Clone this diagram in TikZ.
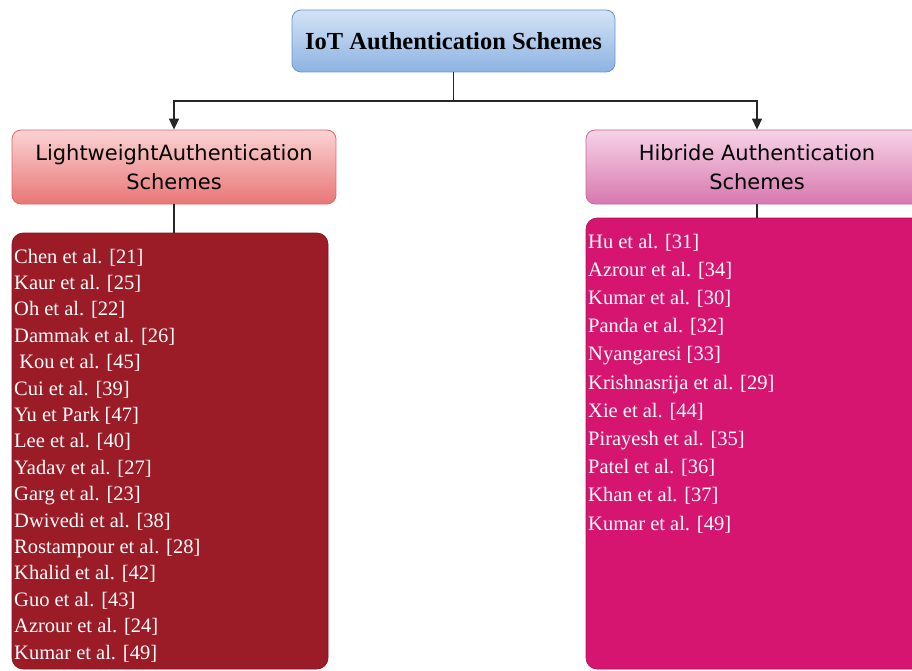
\documentclass[tikz,border=0pt]{standalone}
\usepackage{fontspec}
\setmainfont{Liberation Serif}
\newfontfamily\hdfont{DejaVu Sans}
\usetikzlibrary{arrows.meta}
\definecolor{topA}{HTML}{D3E3F6}
\definecolor{topB}{HTML}{8DB3E2}
\definecolor{topD}{HTML}{6F94C6}
\definecolor{lhA}{HTML}{FBD3D3}
\definecolor{lhB}{HTML}{E97676}
\definecolor{lhD}{HTML}{DB6A6A}
\definecolor{rhA}{HTML}{F6D3E7}
\definecolor{rhB}{HTML}{D878AE}
\definecolor{rhD}{HTML}{C46A9E}
\definecolor{lfill}{HTML}{9B1B27}
\definecolor{rfill}{HTML}{D61570}
\tikzset{
  box/.style={rounded corners=9pt, line width=0.8pt, inner sep=0pt, align=center},
  listbox/.style={rounded corners=11pt, line width=0.6pt, inner sep=0pt},
  itemtxt/.style={anchor=base west, inner sep=0pt, text=white, font=\fontsize{20.5}{24}\selectfont},
  hdtxt/.style={font=\hdfont\fontsize{21}{28.5}\selectfont},
  conn/.style={line width=1.4pt, black!85},
  tip/.style={-{Triangle[width=10pt,length=11pt]}}
}
\begin{document}
\begin{tikzpicture}[x=1pt,y=-1pt]
\useasboundingbox (0,0) rectangle (912,671);
\clip (0,0) rectangle (912,671);
\fill[white] (0,0) rectangle (912,671);
% boxes
\node[box, draw=topD, top color=topA, bottom color=topB, minimum width=323pt, minimum height=62pt,
      font=\bfseries\fontsize{24.5}{28}\selectfont] (top) at (453.5,41) {IoT Authentication Schemes};
\node[box, draw=lhD, top color=lhA, bottom color=lhB, minimum width=324pt, minimum height=74pt, hdtxt]
      (lh) at (174,167) {LightweightAuthentication\\Schemes};
\node[box, draw=rhD, top color=rhA, bottom color=rhB, minimum width=342pt, minimum height=74pt, hdtxt]
      (rh) at (757,167) {Hibride Authentication\\Schemes};
\node[listbox, draw=lfill!80!black, fill=lfill, minimum width=316pt, minimum height=436pt] (ll) at (170,451) {};
\node[listbox, draw=rfill!80!black, fill=rfill, minimum width=342pt, minimum height=451pt] (rl) at (757,443.5) {};
% connectors
\coordinate (j) at (453.5,101);
\draw[conn] (top.south) -- (j);
\draw[conn, tip] (j) -| (lh.north);
\draw[conn, tip] (j) -| (rh.north);
\draw[conn] (lh.south) -- (lh.south |- ll.north);
\draw[conn] (rh.south) -- (rh.south |- rl.north);
% left list
\foreach \t [count=\i from 0] in {Chen et al. [21],Kaur et al. [25],Oh et al. [22],Dammak et al. [26],
  \ Kou et al. [45],Cui et al. [39],Yu et Park [47],Lee et al. [40],Yadav et al. [27],Garg et al. [23],
  Dwivedi et al. [38],Rostampour et al. [28],Khalid et al. [42],Guo et al. [43],Azrour et al. [24],Kumar et al. [49]}
  \node[itemtxt] (l\i) at (14,263+26.4*\i) {\t};
% right list
\foreach \t [count=\i from 0] in {Hu et al. [31],Azrour et al. [34],Kumar et al. [30],Panda et al. [32],
  Nyangaresi [33],Krishnasrija et al. [29],Xie et al. [44],Pirayesh et al. [35],Patel et al. [36],
  Khan et al. [37],Kumar et al. [49]}
  \node[itemtxt] (r\i) at (588,248+28.2*\i) {\t};
\end{tikzpicture}
\end{document}
